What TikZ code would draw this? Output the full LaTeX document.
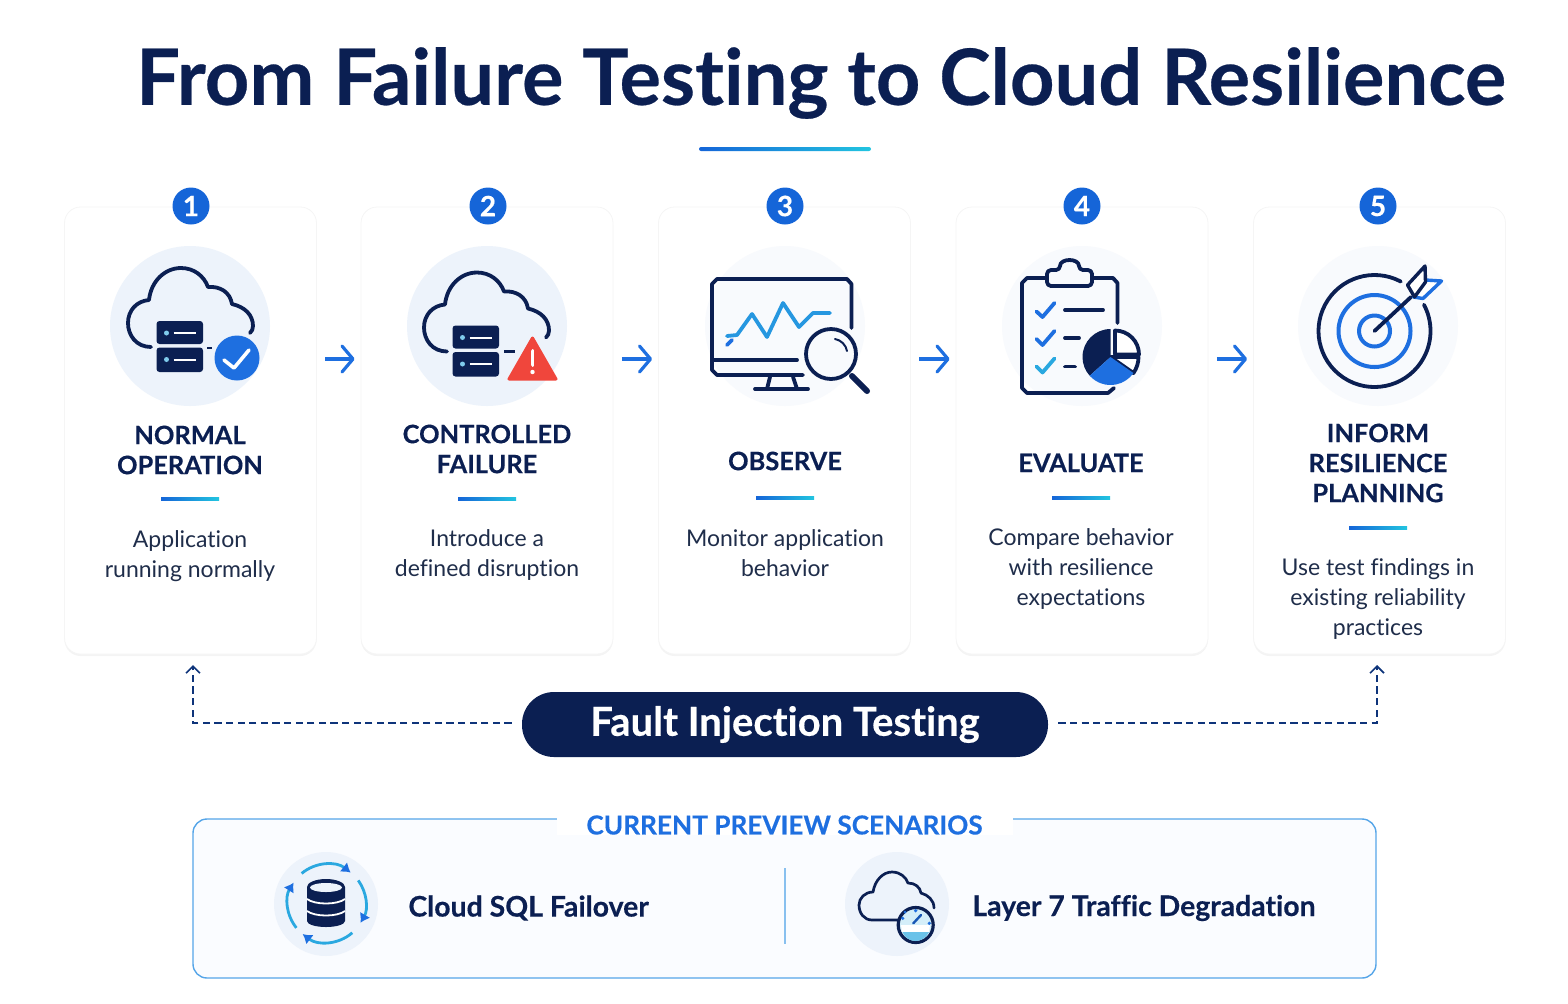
\documentclass[tikz,border=0pt]{standalone}
\usepackage{fontspec}
\setsansfont{Lato}[Ligatures=NoCommon, BoldFeatures={FakeBold=0.35}]
\usepackage{xcolor}
\usetikzlibrary{arrows.meta,calc,positioning,shadows}
\definecolor{navyInk}{HTML}{0B1F52}
\definecolor{stepBlue}{HTML}{1565D8}
\definecolor{flowBlue}{HTML}{1E6FE0}
\definecolor{skyBlue}{HTML}{2AA8E0}
\definecolor{paleRule}{HTML}{22C5E0}
\definecolor{discBlue}{HTML}{EDF3FB}
\definecolor{discFaint}{HTML}{F8FAFD}
\definecolor{panelEdge}{HTML}{55A5E8}
\definecolor{panelFill}{HTML}{FAFCFF}
\definecolor{bodyGray}{HTML}{1F2D4A}
\definecolor{alertRed}{HTML}{F0463C}
\tikzset{
  font=\sffamily,
  card/.style={rectangle, rounded corners=8pt, draw=black!4, line width=0.4pt, fill=white, minimum width=126pt, minimum height=223.5pt, drop shadow={opacity=0.09, shadow xshift=0pt, shadow yshift=-1pt}},
  badge/.style={circle, fill=stepBlue, text=white, minimum size=18.5pt, inner sep=0pt, font=\sffamily\bfseries\fontsize{14}{14}\selectfont},
  disc/.style={circle, fill=discBlue, minimum size=80pt, inner sep=0pt},
  faintDisc/.style={circle, fill=discFaint, minimum size=80pt, inner sep=0pt},
  heading/.style={text=navyInk, align=center, inner sep=0pt, font=\sffamily\bfseries\fontsize{12.7}{15}\selectfont},
  bodyText/.style={text=bodyGray, align=center, inner sep=0pt, font=\sffamily\fontsize{11.5}{15}\selectfont},
  headRule/.style={rectangle, left color=stepBlue, right color=paleRule, minimum width=29pt, minimum height=1.4pt, inner sep=0pt},
  titleRule/.style={rectangle, rounded corners=1pt, left color=stepBlue, right color=paleRule, minimum width=86pt, minimum height=2pt, inner sep=0pt},
  title/.style={text=navyInk, inner sep=0pt, font=\sffamily\bfseries\fontsize{38.8}{46}\selectfont},
  pill/.style={rectangle, rounded corners=16pt, fill=navyInk, text=white, minimum width=263pt, minimum height=32.5pt, inner sep=0pt, font=\sffamily\bfseries\fontsize{20}{24}\selectfont},
  flow/.style={-{Straight Barb[length=5.5pt,width=13pt,round]}, draw=flowBlue, line width=1.6pt, shorten <=4.25pt, shorten >=3pt},
  loopArrow/.style={-{Straight Barb[length=3.5pt,width=7pt]}, draw=navyInk!70!stepBlue, line width=0.8pt, dash pattern=on 3.6pt off 2.2pt, shorten <=5pt},
  panel/.style={rectangle, rounded corners=7pt, draw=panelEdge, line width=0.7pt, fill=panelFill, minimum width=591.5pt, minimum height=79.5pt},
  panelLabel/.style={fill=white, text=flowBlue, inner sep=0pt, minimum width=228pt, minimum height=7pt, font=\sffamily\bfseries\fontsize{13.1}{13.1}\selectfont},
  scenario/.style={text=navyInk, inner sep=0pt, font=\sffamily\bfseries\fontsize{14.2}{17}\selectfont},
  iconLine/.style={draw=navyInk, line width=1.9pt, line cap=round, line join=round},
  tickLine/.style={draw=flowBlue, line width=1.9pt, line cap=round, line join=round},
  dbArrow/.style={draw=skyBlue, line width=1.4pt, -{Latex[length=4.5pt,width=6pt,flowBlue]}},
  cloudServer/.pic={
    \draw[iconLine] (151,347) .. controls (136,347) and (128,335) .. (128,323) .. controls (128,310) and (137,301) .. (149,300) .. controls (151,281) and (165,268) .. (181,268) .. controls (194,268) and (204,276) .. (208,287) .. controls (220,286) and (230,292) .. (232,304) .. controls (245,307) and (253,315) .. (253,326) .. controls (253,329) and (252,331) .. (250,333);
    \fill[navyInk, rounded corners=1.5pt] (156.5,321) rectangle (203,344);
    \fill[navyInk, rounded corners=1.5pt] (156.5,347.5) rectangle (203,372);
    \fill[skyBlue!60] (166.5,333) circle (2.5);
    \fill[skyBlue!60] (166.5,359.5) circle (2.5);
    \draw[white, line width=1pt] (173.5,333) -- (196,333);
    \draw[white, line width=1pt] (173.5,359.5) -- (196,359.5);
  }
}
\begin{document}
\begin{tikzpicture}[x=0.5pt,y=-0.5pt]
\useasboundingbox (0,0) rectangle (1568,1003);

% title
\node[title] (heading0) at (821,83) {From Failure Testing to Cloud Resilience};
\node[titleRule] (rule0) at (785,149) {};

% step cards
\node[card] (card1) at (190.5,430.5) {};
\node[card] (card2) at (487,430.5) {};
\node[card] (card3) at (784.5,430.5) {};
\node[card] (card4) at (1082,430.5) {};
\node[card] (card5) at (1379.5,430.5) {};

\node[badge] (badge1) at (191,206) {1};
\node[badge] (badge2) at (488,206) {2};
\node[badge] (badge3) at (785,206) {3};
\node[badge] (badge4) at (1082,206) {4};
\node[badge] (badge5) at (1378,206) {5};

\node[disc] (disc1) at (190,326) {};
\node[disc] (disc2) at (487,326) {};
\node[faintDisc] (disc3) at (785,326) {};
\node[faintDisc] (disc4) at (1082,326) {};
\node[faintDisc] (disc5) at (1378,326) {};

\node[heading] (head1) at (190,450) {NORMAL\\OPERATION};
\node[heading] (head2) at (487,449) {CONTROLLED\\FAILURE};
\node[heading] (head3) at (785,461) {OBSERVE};
\node[heading] (head4) at (1081,463) {EVALUATE};
\node[heading] (head5) at (1378,463) {INFORM\\RESILIENCE\\PLANNING};

\node[headRule] (rule1) at (190,499) {};
\node[headRule] (rule2) at (487,499) {};
\node[headRule] (rule3) at (785,498) {};
\node[headRule] (rule4) at (1081,498) {};
\node[headRule] (rule5) at (1378,528) {};

\node[bodyText] (body1) at (190,556) {Application\\running normally};
\node[bodyText] (body2) at (487,555) {Introduce a\\defined disruption};
\node[bodyText] (body3) at (785,553) {Monitor application\\behavior};
\node[bodyText] (body4) at (1081,569) {Compare behavior\\with resilience\\expectations};
\node[bodyText] (body5) at (1378,599) {Use test findings in\\existing reliability\\practices};

\draw[flow] ([yshift=35.75pt]card1.east) -- ([yshift=35.75pt]card2.west);
\draw[flow] ([yshift=35.75pt]card2.east) -- ([yshift=35.75pt]card3.west);
\draw[flow] ([yshift=35.75pt]card3.east) -- ([yshift=35.75pt]card4.west);
\draw[flow] ([yshift=35.75pt]card4.east) -- ([yshift=35.75pt]card5.west);

% icon 1 and 2
\pic at (0,0) {cloudServer};
\fill[navyInk] (207,346.5) rectangle (212,349);
\fill[flowBlue] (237,358) circle (22.5);
\draw[white, line width=1.8pt, line cap=round, line join=round] (224,360) -- (234,368) -- (249,350);

\pic at (296,4.5) {cloudServer};
\fill[navyInk] (504,350) rectangle (515,352.5);
\fill[alertRed, draw=alertRed, line width=1.5pt, line join=round] (532.5,338) -- (509,379) -- (556,379) -- cycle;
\draw[white, line width=1.9pt, line cap=round] (532.5,351) -- (532.5,365);
\fill[white] (532.5,372) circle (2.2);

% icon 3
\draw[iconLine] (851.5,328) -- (851.5,284) -- (847,279) -- (717,279) -- (712,284) -- (712,370) -- (717,375) -- (803,375);
\draw[iconLine] (713,360) -- (797,360);
\draw[iconLine] (770,377) -- (767,389);
\draw[iconLine] (793,377) -- (797,389);
\draw[iconLine] (755,389) -- (808,389);
\draw[tickLine, draw=skyBlue!70!flowBlue] (727,336) -- (737,335) -- (752,314) -- (767,337) -- (783,303) -- (799,327) -- (813,313) -- (830,313);
\draw[tickLine, draw=flowBlue] (727,345) -- (732,340);
\draw[iconLine] (831,354) circle (25);
\draw[iconLine, line width=3pt] (852,376) -- (867,391);
\draw[iconLine, line width=1pt] (835,339) .. controls (841,340) and (846,345) .. (847,351);

% icon 4
\draw[iconLine] (1117.5,323) -- (1117.5,283) -- (1113,278) -- (1092,278);
\draw[iconLine] (1047,278) -- (1027,278) -- (1022,283) -- (1022,388) -- (1027,393) -- (1108,393) -- (1114,388);
\draw[iconLine, rounded corners=2pt] (1047,286) -- (1047,270) -- (1060,270) .. controls (1060,258) and (1079,258) .. (1079,270) -- (1092,270) -- (1092,286) -- cycle;
\draw[tickLine] (1036.5,311.5) -- (1042.5,317) -- (1054.5,303);
\draw[tickLine] (1036.5,339) -- (1042.5,345) -- (1054.5,331);
\draw[tickLine, draw=skyBlue] (1036.5,366.5) -- (1042.5,372.5) -- (1054.5,358.5);
\draw[iconLine] (1065,310) -- (1103,310);
\draw[iconLine] (1065,338) -- (1079,338);
\draw[iconLine] (1065,366.5) -- (1075,366.5);
\coordinate (pieCentre) at (1110.5,357);
\draw[iconLine, fill=white] (pieCentre) -- ++(325:14pt) arc[start angle=325, end angle=360, radius=14pt] -- cycle;
\fill[navyInk] (pieCentre) -- ++(90:14pt) arc[start angle=90, end angle=222, radius=14pt] -- cycle;
\fill[flowBlue] (pieCentre) -- ++(222:14pt) arc[start angle=222, end angle=325, radius=14pt] -- cycle;
\coordinate (pieSlice) at (1115,354.5);
\draw[iconLine, fill=white] (pieSlice) -- ++(90:12pt) arc[start angle=90, end angle=0, radius=12pt] -- cycle;

% icon 5
\coordinate (aimCentre) at (1374.5,331);
\draw[iconLine] (aimCentre) ++(62:28pt) arc[start angle=62, end angle=388, radius=28pt];
\draw[iconLine, draw=flowBlue, line width=2pt] (aimCentre) circle (36);
\draw[iconLine, draw=flowBlue, line width=2pt] (aimCentre) circle (15.5);
\draw[iconLine] (aimCentre) -- (1411,297);
\draw[iconLine, line width=1.7pt, draw=flowBlue, fill=white] (1425.5,280) -- (1441.5,281) -- (1423,298.5) -- (1413.5,297) -- cycle;
\draw[iconLine, line width=1.7pt, fill=white] (1407.5,285) -- (1425,266) -- (1425.5,282) -- (1414.5,297) -- cycle;

% fault injection bar
\node[pill] (bar) at (785,724.5) {\raisebox{-1.5pt}{Fault Injection Testing}};
\coordinate (barLeft) at (193,665);
\coordinate (barRight) at (1377,665);
\draw[loopArrow] ([yshift=0.75pt]bar.west) -| (barLeft);
\draw[loopArrow] ([yshift=0.75pt]bar.east) -| (barRight);

% scenarios panel
\node[panel] (scenarios) at (784.5,898.5) {};
\node[panelLabel] (scenLabel) at (784.5,825) {CURRENT PREVIEW SCENARIOS};
\node[disc] (disc6) at (326,904) [minimum size=52pt] {};
\node[disc] (disc7) at (897,904) [minimum size=52pt] {};
\draw[draw=panelEdge!70, line width=0.6pt] (785,868) -- (785,944);
\node[scenario, anchor=west] (scen1) at (408,908) {Cloud SQL Failover};
\node[scenario, anchor=west] (scen2) at (972,908) {Layer 7 Traffic Degradation};

% database icon
\fill[navyInk] (307,887) arc[start angle=180, end angle=0, x radius=9.5pt, y radius=4pt] -- (345,921) arc[start angle=0, end angle=-180, x radius=9.5pt, y radius=3pt] -- cycle;
\fill[discBlue] (326,887.5) ellipse (16 and 4.5);
\draw[white, line width=0.9pt] (307,899) .. controls (315,905) and (337,905) .. (345,899);
\draw[white, line width=0.9pt] (307,911) .. controls (315,917) and (337,917) .. (345,911);
\coordinate (dbCentre) at (326.7,903.3);
\draw[dbArrow] (dbCentre) ++(130:19.5pt) arc[start angle=130, end angle=52, radius=19.5pt];
\draw[dbArrow] (dbCentre) ++(36:19.5pt) arc[start angle=36, end angle=-30, radius=19.5pt];
\draw[dbArrow] (dbCentre) ++(-49:19.5pt) arc[start angle=-49, end angle=-128, radius=19.5pt];
\draw[dbArrow] (dbCentre) ++(-141:19.5pt) arc[start angle=-141, end angle=-212, radius=19.5pt];

% traffic icon
\draw[iconLine, line width=1.35pt] (898,920) -- (872,920) .. controls (864,920) and (859,913) .. (859,905) .. controls (859,898) and (865,892) .. (873,892) .. controls (875,880) and (883,872) .. (892,872) .. controls (900,872) and (906,877) .. (908,883) .. controls (915,883) and (920,887) .. (921,893) .. controls (928,895) and (934,900) .. (934,908);
\draw[iconLine, line width=1.6pt, fill=skyBlue!20] (915.7,925) circle (17.5);
\fill[white] (901,925) -- (930,925) -- (929,932) -- (902,932) -- cycle;
\fill[skyBlue!70] (902.5,932) -- (929,932) .. controls (926,938) and (921,941) .. (915.7,941) .. controls (910,941) and (905,938) .. (902.5,932);
\draw[draw=flowBlue!70!navyInk, line width=1.2pt, line cap=round] (913.3,923.3) -- (921,915);
\fill[flowBlue] (902.7,918.3) circle (1.8);
\fill[flowBlue] (915.7,910.7) circle (1.8);
\fill[flowBlue] (929.3,923.3) circle (1.8);
\fill[flowBlue] (905,912) circle (1.5);

\end{tikzpicture}
\end{document}
